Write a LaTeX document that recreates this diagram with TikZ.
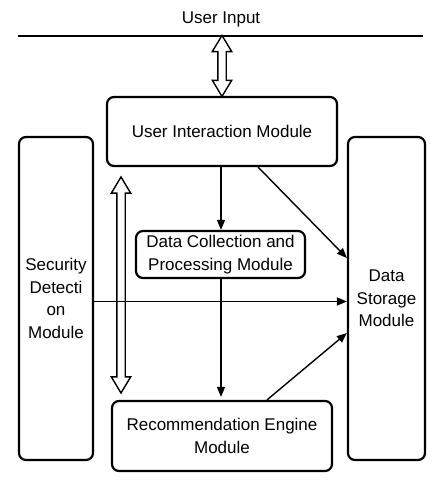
\documentclass[tikz,border=0pt]{standalone}
\usepackage{fontspec}
\setmainfont{Liberation Sans}
\usetikzlibrary{arrows.meta, shapes.arrows, calc}
\tikzset{
    module/.style={draw, line width=2.2pt, rounded corners=7pt, align=center, inner sep=0pt, font=\fontsize{17}{22.5}\selectfont}, % module box
    link/.style={-{Triangle[length=10pt, width=8pt]}, line width=1.4pt}, % one-way data flow
    bus/.style={double arrow, draw, fill=white, line width=1.4pt, shape border rotate=90, inner sep=3.5pt,
                double arrow head extend=5.5pt, double arrow tip angle=62} % two-way interface
}

\begin{document}
\begin{tikzpicture}[x=1pt, y=-1pt]
    \useasboundingbox (0,0) rectangle (447,493);

    % user input line
    \coordinate (inL) at (18,36); \coordinate (inR) at (423,36); \coordinate (inM) at (222,36);
    \draw[line width=2pt] (inL) -- (inR);
    \node[font=\fontsize{17}{20}\selectfont] (input) at (221,19) {User Input};

    % modules
    \node[module, minimum width=230pt, minimum height=69pt] (uim) at (222,131.5) {User Interaction Module};
    \node[module, minimum width=74pt, minimum height=323pt] (sec) at (56,298.5) {Security\\Detecti\\on\\Module};
    \node[module, minimum width=77pt, minimum height=323pt] (ds) at (386.5,298.5) {Data\\Storage\\Module};
    \node[module, minimum width=169pt, minimum height=47pt] (dcp) at (220.5,254.5) {Data Collection and\\Processing Module};
    \node[module, minimum width=220pt, minimum height=70pt] (rem) at (222,436) {Recommendation Engine\\Module};

    % two-way interfaces
    \node[bus, minimum height=61pt] (busTop) at ($(inM)!0.5!(uim.north)$) {};
    \node[bus, minimum height=216pt] (busLeft) at (121,285) {};

    % data flow
    \draw[link] (uim.south -| 221,0) -- (dcp.north -| 221,0);
    \draw[link] ($(uim.south east)+(-80,0)$) -- ($(ds.west)+(0,-40.5)$);
    \draw[link] ($(sec.east)+(0,3)$) -- ($(ds.west)+(0,3)$);
    \draw[link] (dcp.south -| 221,0) -- ($(rem.north)+(-1,-3)$);
    \draw[link] ($(rem.north)+(45,0)$) -- ($(ds.west)+(0,34.5)$);
\end{tikzpicture}
\end{document}
